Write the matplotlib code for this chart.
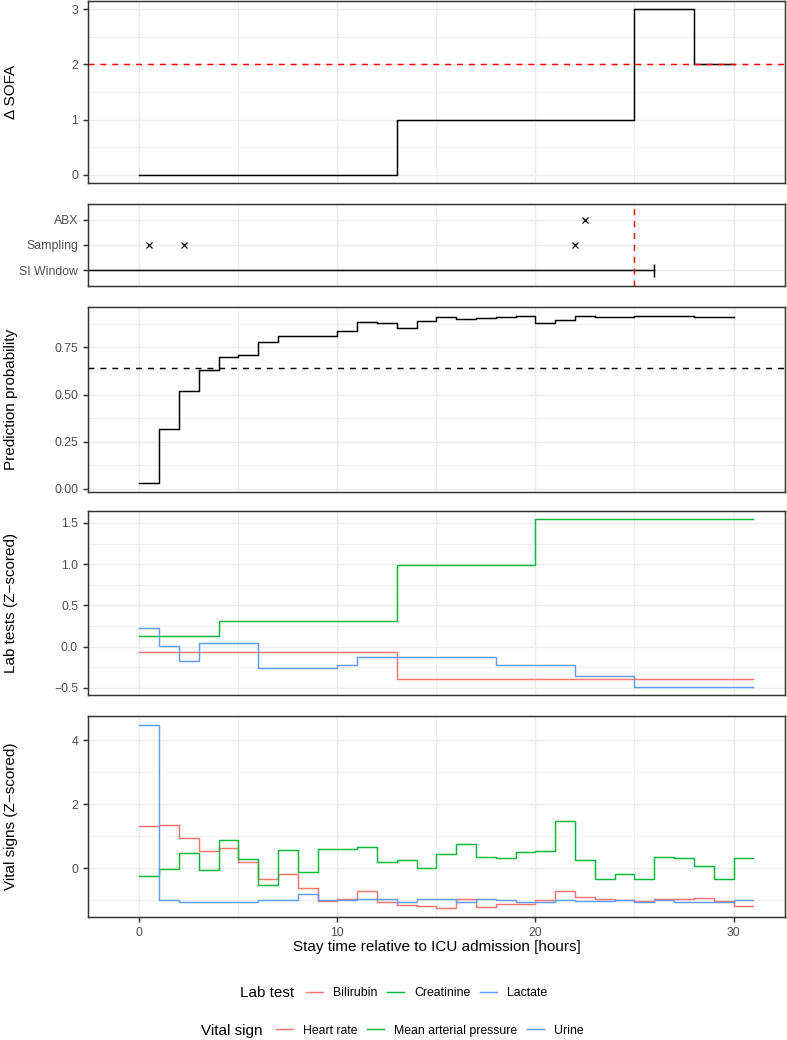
import numpy as np
import matplotlib
matplotlib.use("Agg")
import matplotlib.pyplot as plt
from matplotlib.lines import Line2D
from matplotlib.ticker import FixedLocator, FuncFormatter

plt.rcParams['font.family'] = ['Liberation Sans', 'DejaVu Sans']
plt.rcParams['axes.unicode_minus'] = True

# ---- data ----
x_range = (-1, 31)

sofa_times = [0, 13, 25, 28]
sofa_values = [0, 1, 3, 2]
sofa_end = 30
sofa_threshold = 2

event_labels = ["SI Window", "Sampling", "ABX"]
abx_times = [22.5]
sampling_times = [0.5, 2.25, 22.0]
si_window = (-22, 26)
si_onset = 25

pred_values = [0.03, 0.316, 0.517, 0.628, 0.697, 0.709, 0.78, 0.81, 0.811, 0.813,
               0.836, 0.884, 0.879, 0.852, 0.889, 0.909, 0.903, 0.907, 0.909, 0.916,
               0.879, 0.896, 0.914, 0.912, 0.912, 0.914, 0.918, 0.914, 0.912, 0.910]
pred_end = 30
pred_threshold = 0.639

lab_names = ["Bilirubin", "Creatinine", "Lactate"]
bili_times = [0, 13]
bili_values = [-0.06, -0.387]
crea_times = [0, 4, 13, 20]
crea_values = [0.133, 0.306, 0.99, 1.544]
lact_times = [0, 1, 2, 3, 6, 10, 11, 18, 22, 25]
lact_values = [0.222, 0.004, -0.173, 0.048, -0.262, -0.218, -0.129, -0.218, -0.355, -0.484]
lab_end = 31

vital_names = ["Heart rate", "Mean arterial pressure", "Urine"]
hr_values = [1.33, 1.36, 0.94, 0.54, 0.64, 0.2, -0.32, -0.16, -0.61, -1.01, -0.96,
             -0.70, -1.06, -1.13, -1.17, -1.23, -0.94, -1.2, -1.12, -1.12, -0.99,
             -0.70, -0.89, -0.95, -1.0, -1.02, -0.96, -0.96, -0.92, -1.01, -1.18]
map_values = [-0.24, -0.02, 0.49, -0.05, 0.89, 0.28, -0.53, 0.56, -0.12, 0.61, 0.61,
              0.67, 0.2, 0.25, 0.02, 0.44, 0.77, 0.35, 0.31, 0.5, 0.54, 1.49, 0.26,
              -0.34, -0.18, -0.34, 0.36, 0.32, 0.07, -0.34, 0.32]
urine_values = [4.47, -0.97, -1.04, -1.04, -1.04, -1.04, -0.97, -0.97, -0.79, -0.99,
                -0.99, -0.95, -0.95, -1.05, -0.94, -0.94, -1.04, -0.94, -0.97, -1.05,
                -1.04, -1.0, -1.03, -1.03, -0.98, -1.05, -0.97, -1.04, -1.04, -1.04, -0.97]
vital_end = 31

colors = ["#F8766D", "#00BA38", "#619CFF"]

# ---- helpers ----
W, H = 787, 1040
LW = 1.07
TICK_COL = "#4D4D4D"


def expand(lo, hi, f=0.05):
    d = (hi - lo) * f
    return lo - d, hi + d


def fmt(decimals):
    return FuncFormatter(lambda v, p: f"{v:.{decimals}f}".replace("-", "\u2212"))


def step(ax, times, values, end, **kw):
    xs = list(times) + [end]
    ys = list(values) + [values[-1]]
    ax.step(xs, ys, where="post", lw=LW, **kw)


def panel(top, bottom):
    ax = fig.add_axes([87.8 / W, 1 - bottom / H, (785 - 87.8) / W, (bottom - top) / H])
    ax.set_facecolor("white")
    for s in ax.spines.values():
        s.set_color("#333333")
        s.set_linewidth(LW)
    ax.set_axisbelow(True)
    ax.set_xlim(*expand(*x_range))
    ax.xaxis.set_major_locator(FixedLocator([0, 10, 20, 30]))
    ax.xaxis.set_minor_locator(FixedLocator([5, 15, 25]))
    ax.grid(True, which="major", color="#EBEBEB", lw=LW)
    ax.grid(True, which="minor", color="#EBEBEB", lw=LW / 2)
    ax.tick_params(which="both", labelsize=8.8, labelcolor=TICK_COL, color="#333333",
                   length=3.5, width=LW)
    ax.tick_params(which="minor", length=0)
    ax.tick_params(axis="x", which="both", bottom=False, labelbottom=False)
    return ax


def ytitle(ax, text):
    pos = ax.get_position()
    fig.text(11 / W, pos.y0 + pos.height / 2, text, rotation=90, ha="center",
             va="center", fontsize=11)


fig = plt.figure(figsize=(W / 100, H / 100), dpi=100)

# panel 1: delta SOFA
ax1 = panel(1, 183)
step(ax1, sofa_times, sofa_values, sofa_end, color="black")
ax1.axhline(sofa_threshold, color="red", ls=(0, (4, 4)), lw=LW)
ax1.set_ylim(*expand(min(sofa_values), max(sofa_values)))
ax1.yaxis.set_major_locator(FixedLocator([0, 1, 2, 3]))
ax1.yaxis.set_minor_locator(FixedLocator([0.5, 1.5, 2.5]))
ax1.yaxis.set_major_formatter(fmt(0))
ytitle(ax1, "Δ SOFA")

# panel 2: events
ax2 = panel(204.3, 285.7)
ax2.set_ylim(0.4, len(event_labels) + 0.6)
ax2.yaxis.set_major_locator(FixedLocator([1, 2, 3]))
ax2.set_yticklabels(event_labels)
ax2.yaxis.set_minor_locator(FixedLocator([]))
ax2.plot(si_window, [1, 1], color="black", lw=LW)
ax2.vlines(si_window[1], 0.75, 1.25, color="black", lw=LW)
ax2.plot(sampling_times, [2] * len(sampling_times), "x", color="black", ms=5, mew=0.9)
ax2.plot(abx_times, [3] * len(abx_times), "x", color="black", ms=5, mew=0.9)
ax2.axvline(si_onset, color="red", ls=(0, (4, 4)), lw=LW)

# panel 3: prediction probability
ax3 = panel(307.3, 491.7)
step(ax3, range(len(pred_values)), pred_values, pred_end, color="black")
ax3.axhline(pred_threshold, color="black", ls=(0, (4, 4)), lw=LW)
ax3.set_ylim(*expand(min(pred_values), max(pred_values)))
ax3.yaxis.set_major_locator(FixedLocator([0, 0.25, 0.5, 0.75]))
ax3.yaxis.set_minor_locator(FixedLocator([0.125, 0.375, 0.625, 0.875]))
ax3.yaxis.set_major_formatter(fmt(2))
ytitle(ax3, "Prediction probability")

# panel 4: lab tests
ax4 = panel(511, 695)
lab_series = [(bili_times, bili_values), (crea_times, crea_values), (lact_times, lact_values)]
for (t, v), c in zip(lab_series, colors):
    step(ax4, t, v, lab_end, color=c)
all_lab = bili_values + crea_values + lact_values
ax4.set_ylim(*expand(min(all_lab), max(all_lab)))
ax4.yaxis.set_major_locator(FixedLocator([-0.5, 0, 0.5, 1.0, 1.5]))
ax4.yaxis.set_minor_locator(FixedLocator([-0.25, 0.25, 0.75, 1.25]))
ax4.yaxis.set_major_formatter(fmt(1))
ytitle(ax4, "Lab tests (Z\u2212scored)")

# panel 5: vital signs
ax5 = panel(716, 917)
for v, c in zip([hr_values, map_values, urine_values], colors):
    step(ax5, range(len(v)), v, vital_end, color=c)
all_vit = hr_values + map_values + urine_values
ax5.set_ylim(*expand(min(all_vit), max(all_vit)))
ax5.yaxis.set_major_locator(FixedLocator([0, 2, 4]))
ax5.yaxis.set_minor_locator(FixedLocator([-1, 1, 3]))
ax5.yaxis.set_major_formatter(fmt(0))
ax5.tick_params(axis="x", which="major", bottom=True, labelbottom=True)
ax5.xaxis.set_major_formatter(fmt(0))
ytitle(ax5, "Vital signs (Z\u2212scored)")
fig.text((87.8 + 785) / 2 / W, 1 - 947 / H, "Stay time relative to ICU admission [hours]",
         ha="center", va="center", fontsize=11)

# legends
def add_legend(title, title_x, handle_x, y, names):
    yf = 1 - y / H
    fig.text(title_x / W, yf, title, ha="left", va="center", fontsize=11)
    handles = [Line2D([], [], color=c, lw=LW) for c in colors]
    fig.legend(handles, names, loc="center left", bbox_to_anchor=(handle_x / W, yf),
               ncol=3, frameon=False, fontsize=8.8, handlelength=1.4,
               handletextpad=0.8, columnspacing=0.8, borderpad=0, borderaxespad=0)


add_legend("Lab test", 240, 306, 993.3, lab_names)
add_legend("Vital sign", 200.7, 276, 1030.7, vital_names)

fig.savefig("out.png", dpi=100)
